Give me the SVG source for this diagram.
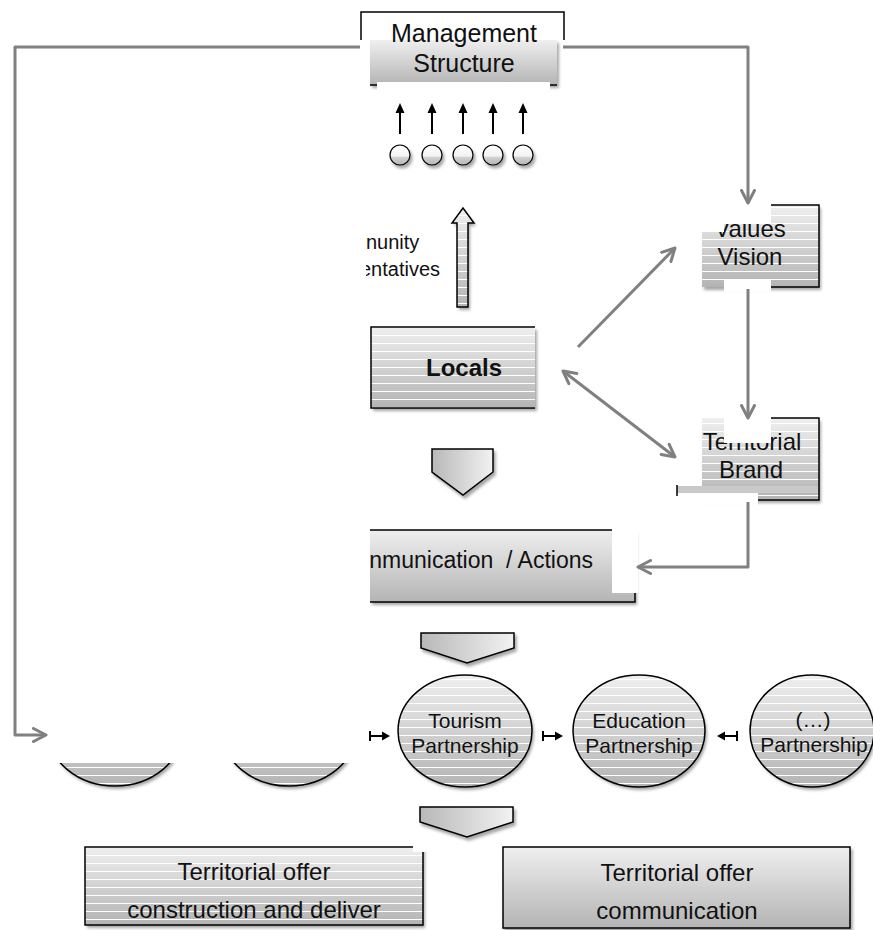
<svg xmlns="http://www.w3.org/2000/svg" width="873" height="930" viewBox="0 0 873 930">
<style>
text{font-family:"Liberation Sans",Arial,sans-serif;fill:#111}
.t24{font-size:24px}
.t25{font-size:25px}
.t20{font-size:20px}
.t21{font-size:21px}
.b{stroke:#000;stroke-width:1.5;fill:none}
.m{fill:#fff;stroke:none}
.con{stroke:#808080;stroke-width:3;fill:none;stroke-linejoin:round}
.sm{stroke:#000;stroke-width:2;fill:none}
</style>
<defs>
<linearGradient id="gv" x1="0" y1="0" x2="0" y2="1"><stop offset="0" stop-color="#efefef"/><stop offset="1" stop-color="#b4b4b4"/></linearGradient>
<linearGradient id="gh" x1="0" y1="0" x2="1" y2="0"><stop offset="0" stop-color="#b8b8b8"/><stop offset="1" stop-color="#f2f2f2"/></linearGradient>
<linearGradient id="gc" x1="0" y1="0" x2="0" y2="1"><stop offset="0" stop-color="#ffffff"/><stop offset="0.5" stop-color="#f4f4f4"/><stop offset="0.56" stop-color="#d6d6d6"/><stop offset="1" stop-color="#b4b4b4"/></linearGradient>
<pattern id="st" patternUnits="userSpaceOnUse" width="8" height="8"><rect y="7" width="8" height="1" fill="#fff"/></pattern>
<filter id="sh" x="-10%" y="-10%" width="130%" height="140%"><feDropShadow dx="2" dy="3" stdDeviation="1.5" flood-opacity=".35"/></filter>
<marker id="ah" viewBox="0 0 16 16" refX="14" refY="8" markerWidth="16" markerHeight="16" markerUnits="userSpaceOnUse" orient="auto-start-reverse"><path d="M1.5,1.5 L14,8 L1.5,14.5" fill="none" stroke="#808080" stroke-width="3" stroke-linecap="round" stroke-linejoin="round"/></marker>
<clipPath id="clipRep"><rect x="366" y="200" width="120" height="100"/></clipPath>
</defs>

<g id="management">
<rect x="370" y="40" width="187" height="45" fill="url(#gv)" filter="url(#sh)"/>
<path class="b" d="M361,40 V12 H564 V40 M370,85 H377 M550,85 H557"/>
<rect class="m" x="377" y="82" width="173" height="14"/>
<text class="t25" x="464" y="42" text-anchor="middle">Management</text>
<text class="t25" x="464" y="72" text-anchor="middle">Structure</text>
</g>

<g id="representatives">
<g filter="url(#sh)">
<circle cx="400" cy="155" r="10" fill="url(#gc)" stroke="#000" stroke-width="1.2"/>
<circle cx="432" cy="155" r="10" fill="url(#gc)" stroke="#000" stroke-width="1.2"/>
<circle cx="463" cy="155" r="10" fill="url(#gc)" stroke="#000" stroke-width="1.2"/>
<circle cx="493" cy="155" r="10" fill="url(#gc)" stroke="#000" stroke-width="1.2"/>
<circle cx="523" cy="155" r="10" fill="url(#gc)" stroke="#000" stroke-width="1.2"/>
</g>
<path d="M391,156 H409 M423,156 H441 M454,156 H472 M484,156 H502 M514,156 H532" stroke="#fff" stroke-width="1"/>
<path d="M400,134 V110 M432,134 V110 M463,134 V110 M493,134 V110 M523,134 V110" stroke="#000" stroke-width="2"/>
<path d="M400,103 L395.5,113 H404.5 Z M432,103 L427.5,113 H436.5 Z M463,103 L458.5,113 H467.5 Z M493,103 L488.5,113 H497.5 Z M523,103 L518.5,113 H527.5 Z" fill="#000"/>
</g>

<g id="community">
<polygon points="457,307 468,307 468,223 474,223 463,208 452,223 457,223" fill="url(#gv)" filter="url(#sh)"/>
<polygon points="457,307 468,307 468,223 474,223 463,208 452,223 457,223" fill="url(#st)" stroke="#000" stroke-width="1.5"/>
<text class="t20" x="366" y="249">nunity</text>
<text class="t20" x="360" y="276" clip-path="url(#clipRep)">entatives</text>
</g>

<g id="locals">
<rect x="371" y="327" width="164" height="81" fill="url(#gv)" filter="url(#sh)"/>
<rect x="371" y="327" width="164" height="81" fill="url(#st)"/>
<path class="b" d="M535,327 H371 V408 H535"/>
<text x="464" y="376" text-anchor="middle" style="font-size:24px;font-weight:bold">Locals</text>
</g>

<g id="values">
<rect x="702" y="205" width="117" height="82" fill="url(#gv)" filter="url(#sh)"/>
<rect x="702" y="205" width="117" height="82" fill="url(#st)"/>
<text class="t24" x="750" y="237" text-anchor="middle">Values</text>
<text class="t24" x="750" y="265" text-anchor="middle">Vision</text>
<rect class="m" x="700" y="203" width="24" height="29"/>
<rect class="m" x="700" y="203" width="71" height="21"/>
<rect class="m" x="724" y="280" width="47" height="12"/>
<path class="b" d="M771,205 H819 V287 H771"/>
</g>

<g id="brand">
<rect x="702" y="418" width="117" height="82" fill="url(#gv)" filter="url(#sh)"/>
<rect x="702" y="418" width="117" height="82" fill="url(#st)"/>
<text class="t24" x="752" y="450" text-anchor="middle">Territorial</text>
<text class="t24" x="751" y="478" text-anchor="middle">Brand</text>
<rect class="m" x="724" y="416" width="47" height="27"/>
<rect x="677" y="486" width="141" height="7" fill="#c9c9c9"/>
<rect class="m" x="676" y="493" width="82" height="12"/>
<path class="b" d="M771,418 H819 V500 H758 M677,485 V496"/>
</g>

<g id="arrow1">
<polygon points="432,449 493,449 493,472 463,495 432,472" fill="url(#gh)" stroke="#000" stroke-width="1.5" filter="url(#sh)"/>
</g>

<g id="communication">
<rect x="370" y="530" width="265" height="72" fill="url(#gv)" filter="url(#sh)"/>
<rect class="m" x="612" y="527" width="26" height="66"/>
<path class="b" d="M370,530 H612 M635,593 V602 H370"/>
<text x="593" y="568" text-anchor="end" xml:space="preserve" style="font-size:23px">nmunication  / Actions</text>
</g>

<g id="arrow2">
<polygon points="421,633 514,633 514,648 467,663 421,648" fill="url(#gh)" stroke="#000" stroke-width="1.5" filter="url(#sh)"/>
</g>

<g id="partnerships-hidden">
<ellipse cx="115" cy="731" rx="67" ry="55" fill="url(#gv)" filter="url(#sh)"/>
<ellipse cx="115" cy="731" rx="67" ry="55" fill="url(#st)" stroke="#000" stroke-width="1.5"/>
<ellipse cx="289" cy="731" rx="67" ry="55" fill="url(#gv)" filter="url(#sh)"/>
<ellipse cx="289" cy="731" rx="67" ry="55" fill="url(#st)" stroke="#000" stroke-width="1.5"/>
<rect class="m" x="40" y="668" width="328" height="95"/>
</g>

<g id="tourism">
<ellipse cx="465" cy="731" rx="67" ry="56" fill="url(#gv)" filter="url(#sh)"/>
<ellipse cx="465" cy="731" rx="67" ry="56" fill="url(#st)" stroke="#000" stroke-width="1.5"/>
<text class="t21" x="465" y="728" text-anchor="middle">Tourism</text>
<text class="t21" x="465" y="753" text-anchor="middle">Partnership</text>
</g>

<g id="education">
<ellipse cx="639" cy="731" rx="66" ry="56" fill="url(#gv)" filter="url(#sh)"/>
<ellipse cx="639" cy="731" rx="66" ry="56" fill="url(#st)" stroke="#000" stroke-width="1.5"/>
<text class="t21" x="639" y="728" text-anchor="middle">Education</text>
<text class="t21" x="639" y="753" text-anchor="middle">Partnership</text>
</g>

<g id="other">
<ellipse cx="812" cy="731" rx="62" ry="56" fill="url(#gv)" filter="url(#sh)"/>
<ellipse cx="812" cy="731" rx="62" ry="56" fill="url(#st)" stroke="#000" stroke-width="1.5"/>
<text class="t21" x="813" y="727" text-anchor="middle">(…)</text>
<text class="t21" x="814" y="752" text-anchor="middle">Partnership</text>
</g>

<g id="arrow3">
<polygon points="420,807 513,807 513,822 467,837 420,822" fill="url(#gh)" stroke="#000" stroke-width="1.5" filter="url(#sh)"/>
</g>

<g id="offer-construction">
<rect x="85" y="847" width="338" height="78" fill="url(#gv)" filter="url(#sh)"/>
<rect x="85" y="847" width="338" height="78" fill="url(#st)" stroke="#000" stroke-width="1.5"/>
<rect class="m" x="413" y="844" width="13" height="8"/>
<text class="t24" x="254" y="880" text-anchor="middle">Territorial offer</text>
<text class="t24" x="254" y="918" text-anchor="middle">construction and deliver</text>
</g>

<g id="offer-communication">
<rect x="503" y="847" width="347" height="81" fill="url(#gv)" stroke="#000" stroke-width="1.5" filter="url(#sh)"/>
<text class="t24" x="677" y="881" text-anchor="middle">Territorial offer</text>
<text class="t24" x="677" y="919" text-anchor="middle">communication</text>
</g>

<g id="connectors">
<path class="con" d="M360,47 H15 V735 H46" marker-end="url(#ah)"/>
<path class="con" d="M563,47 H748 V203" marker-end="url(#ah)"/>
<path class="con" d="M578,347 L675,248" marker-end="url(#ah)"/>
<path class="con" d="M563,371 L675,457" marker-start="url(#ah)" marker-end="url(#ah)"/>
<path class="con" d="M748,289 V418" marker-end="url(#ah)"/>
<path class="con" d="M748,502 V567 H638" marker-end="url(#ah)"/>
<g>
<path class="sm" d="M370,731 V741 M370,736 H383 M543,731 V741 M543,736 H556 M737,731 V741 M737,736 H724"/>
<path d="M390,736 L382,731.5 V740.5 Z M563,736 L555,731.5 V740.5 Z M717,736 L725,731.5 V740.5 Z" fill="#000"/>
</g>
</g>
</svg>
